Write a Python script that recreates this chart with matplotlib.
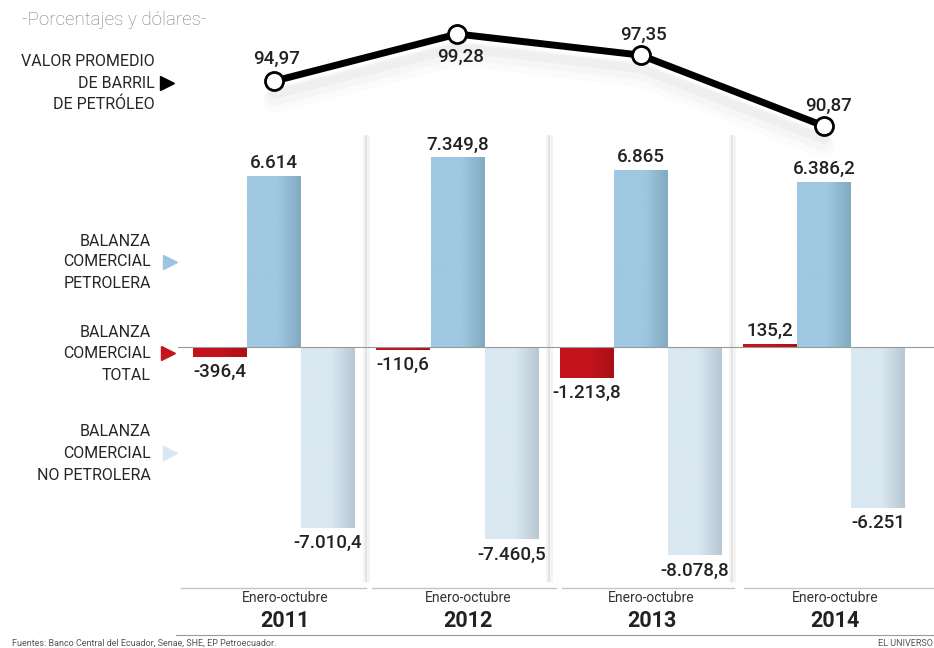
import numpy as np
import matplotlib
matplotlib.use('Agg')
import matplotlib.pyplot as plt
from matplotlib.colors import LinearSegmentedColormap
import matplotlib.patheffects as pe
import matplotlib.transforms as mtransforms

# ---------------- data ----------------
years = ['2011', '2012', '2013', '2014']
period = 'Enero-octubre'
oil_price = [94.97, 99.28, 97.35, 90.87]
oil_labels = ['94,97', '99,28', '97,35', '90,87']
total = [-396.4, -110.6, -1213.8, 135.2]
total_labels = ['-396,4', '-110,6', '-1.213,8', '135,2']
petro = [6614, 7349.8, 6865, 6386.2]
petro_labels = ['6.614', '7.349,8', '6.865', '6.386,2']
nopetro = [-7010.4, -7460.5, -8078.8, -6251]
nopetro_labels = ['-7.010,4', '-7.460,5', '-8.078,8', '-6.251']

title = '-Porcentajes y dólares-'
label_oil = ['VALOR PROMEDIO', 'DE BARRIL', 'DE PETRÓLEO']
label_petro = ['BALANZA', 'COMERCIAL', 'PETROLERA']
label_total = ['BALANZA', 'COMERCIAL', 'TOTAL']
label_nopetro = ['BALANZA', 'COMERCIAL', 'NO PETROLERA']
source = 'Fuentes: Banco Central del Ecuador, Senae, SHE, EP Petroecuador.'
brand = 'EL UNIVERSO'

# ---------------- layout helpers ----------------
W, H = 934, 648
fig = plt.figure(figsize=(W / 100, H / 100), dpi=100)
fig.patch.set_facecolor('white')


def fx(x):
    return x / W


def fy(y):
    return 1 - y / H


FONT = 'Roboto'
TXT = '#222222'

x0px, step = 274, 183.3
xlim = ((178 - x0px) / step, (934 - x0px) / step)

# ---------------- bar axes ----------------
ax = fig.add_axes([fx(178), fy(585), (934 - 178) / W, (585 - 130) / H])
s = 0.0258
ylim = (-(585 - 347) / s, (347 - 130) / s)
ax.axis('off')

x = np.arange(len(years))
bw = 0.292
off = 0.295

# separators
ax.vlines(x[:-1] + 0.5, -(582 - 347) / s, (347 - 135) / s, color='#f4f4f4', lw=5, zorder=0)
ax.vlines(x[:-1] + 0.5, -(582 - 347) / s, (347 - 135) / s, color='#e0e0e0', lw=1.2, zorder=0.5)


def grad_bars(bars, c_left, c_right):
    cmap = LinearSegmentedColormap.from_list('g', [(0, c_left), (0.55, c_left), (1, c_right)])
    for b in bars:
        bx, by = b.get_x(), b.get_y()
        w, h = b.get_width(), b.get_height()
        im = ax.imshow(np.linspace(0, 1, 64)[None, :], cmap=cmap,
                       extent=[bx, bx + w, min(by, by + h), max(by, by + h)],
                       aspect='auto', interpolation='bicubic', zorder=2)
        im.set_clip_path(b)


b_tot = ax.bar(x - off, total, width=bw, color='#c4141c', zorder=1.5, lw=0)
b_pet = ax.bar(x, petro, width=bw, color='#9dc5df', zorder=1.5, lw=0)
b_nop = ax.bar(x + off, nopetro, width=bw, color='#d8e7f1', zorder=1.5, lw=0)
grad_bars(b_tot, '#c4131b', '#a81016')
grad_bars(b_pet, '#a0c8e2', '#82abc2')
grad_bars(b_nop, '#dae8f2', '#b8c8d3')
ax.set_xlim(*xlim)
ax.set_ylim(*ylim)

ax.axhline(0, color='#9a9a9a', lw=0.8, zorder=3)


def value_labels(xs, vals, labels):
    for xi, v, lab in zip(xs, vals, labels):
        if v >= 0:
            ax.annotate(lab, (xi, v), xytext=(0, 4), textcoords='offset pixels',
                        ha='center', va='bottom', fontsize=13.5, family=FONT,
                        fontweight='medium', color=TXT, zorder=5)
        else:
            ax.annotate(lab, (xi, v), xytext=(0, -6), textcoords='offset pixels',
                        ha='center', va='top', fontsize=13.5, family=FONT,
                        fontweight='medium', color=TXT, zorder=5)


value_labels(x - off, total, total_labels)
value_labels(x, petro, petro_labels)
value_labels(x + off, nopetro, nopetro_labels)

# ---------------- line axes ----------------
lax = fig.add_axes([fx(178), fy(140), (934 - 178) / W, 140 / H])
lax.set_xlim(*xlim)
ps = 10.94
lax.set_ylim(99.28 - (140 - 34) / ps, 99.28 + 34 / ps)
lax.axis('off')
lax.patch.set_alpha(0)

shadow = [pe.SimpleLineShadow(offset=(0, -d), shadow_color='#808080', alpha=a, linewidth=lw)
          for d, a, lw in [(15, 0.03, 16), (12, 0.04, 12), (9, 0.05, 8)]]
lax.plot(x, oil_price, color='black', lw=5, solid_capstyle='round', zorder=3,
         path_effects=shadow + [pe.Normal()], clip_on=False)
lax.plot(x, oil_price, ls='none', marker='o', ms=13, mfc='white', mec='black', mew=2,
         zorder=4, clip_on=False)

oil_offsets = [(3, 22), (3, -23), (3, 20), (5, 20)]
for xi, v, lab, (dx, dy) in zip(x, oil_price, oil_labels, oil_offsets):
    lax.annotate(lab, (xi, v), xytext=(dx, dy), textcoords='offset pixels',
                 ha='center', va='center', fontsize=13.5, family=FONT,
                 fontweight='medium', color=TXT, zorder=5, annotation_clip=False)

# ---------------- x labels ----------------
blend = mtransforms.blended_transform_factory(ax.transData, fig.transFigure)
for xi, yr in zip(x, years):
    ax.text(xi + 0.06, fy(598), period, transform=blend, ha='center', va='center',
            fontsize=10, family=FONT, color='#333333')
    ax.text(xi + 0.06, fy(621), yr, transform=blend, ha='center', va='center',
            fontsize=15.5, family=FONT, fontweight='bold', color='#222222')

segs = [(181, 366), (372, 556), (562, 734), (744, 934)]
for a, b in segs:
    fig.add_artist(plt.Line2D([fx(a), fx(b)], [fy(588), fy(588)], color='#c4c4c4', lw=1,
                              transform=fig.transFigure))
fig.add_artist(plt.Line2D([fx(176), fx(934)], [fy(635), fy(635)], color='#9a9a9a', lw=0.8,
                          transform=fig.transFigure))

# ---------------- left side labels ----------------
fig.text(fx(22), fy(20), title, ha='left', va='center', fontsize=13.5, family=FONT,
         fontweight='light', color='#7a7a7a')


def side_label(lines, ys, xr=153, size=11.5):
    for ln, yy in zip(lines, ys):
        fig.text(fx(xr), fy(yy), ln, ha='right', va='center', fontsize=size,
                 family=FONT, color='#262626')


side_label(label_oil, [62, 83, 104], xr=155)
side_label(label_petro, [241, 262, 283], xr=151)
side_label(label_total, [332, 353, 375], xr=151)
side_label(label_nopetro, [432, 453, 475], xr=151)

tri = [(167, 83, 'black'), (170, 262, '#9dc5df'), (168, 353, '#c4141c'), (170, 453, '#d8e7f1')]
for tx, ty, tc in tri:
    fig.add_artist(plt.Line2D([fx(tx)], [fy(ty)], marker='>', ms=10, color=tc, mec=tc,
                              transform=fig.transFigure, ls='none'))

# ---------------- footer ----------------
fig.text(fx(12), fy(643), source, ha='left', va='center', fontsize=6.5, family=FONT,
         color='#555555')
fig.text(fx(933), fy(643), brand, ha='right', va='center', fontsize=6.5, family=FONT,
         color='#555555')

fig.savefig('out.png', dpi=100, facecolor='white')
